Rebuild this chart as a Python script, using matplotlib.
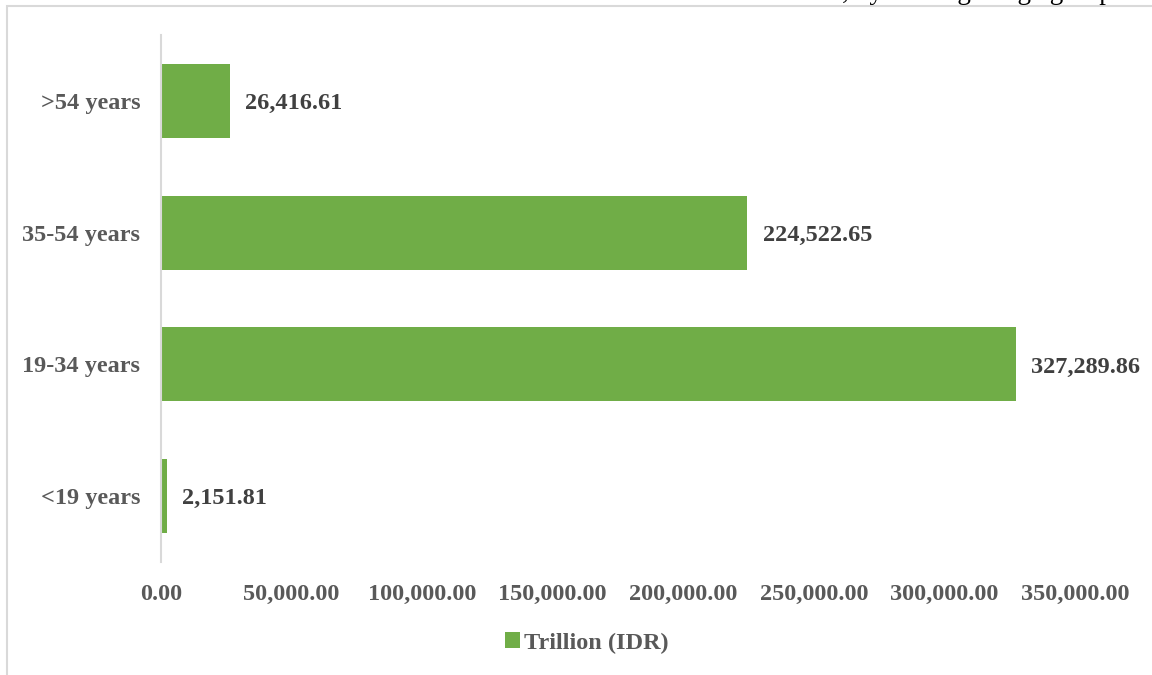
import matplotlib.pyplot as plt
from matplotlib.patches import Rectangle

# outstanding loans by borrower age group
age_groups = ["<19 years", "19-34 years", "35-54 years", ">54 years"]
amounts = [2151.81, 327289.86, 224522.65, 26416.61]
x_ticks = [0, 50000, 100000, 150000, 200000, 250000, 300000, 350000]
series_name = "Trillion (IDR)"
caption = "Total loan disbursement, by lending in age group"

GREEN = "#70AD47"
GRID = "#D9D9D9"
TICK_COLOR = "#595959"
LABEL_COLOR = "#404040"

plt.rcParams["font.family"] = ["Liberation Serif", "DejaVu Serif"]
plt.rcParams["font.weight"] = "bold"

W, H = 1152, 675
fig = plt.figure(figsize=(W / 100, H / 100), dpi=100)

# frame around the chart area
fig.add_artist(Rectangle((7 / W, -0.1), 1.2, 1 - 6 / H + 0.1,
                         transform=fig.transFigure, fill=False,
                         edgecolor=GRID, linewidth=1.5))

# clipped caption line at the top edge
fig.text(1113 / W, 1 + 1 / H, caption, ha="right", va="baseline",
         fontsize=19.5, fontweight="normal", color="black")

ax = fig.add_axes([161 / W, 1 - 562 / H, (1075 - 161) / W, (562 - 35) / H])

bars = ax.barh(range(len(age_groups)), amounts, height=0.56, color=GREEN,
               label=series_name)
ax.set_xlim(0, 350000)
ax.set_ylim(-0.5, len(age_groups) - 0.5)

for bar, val in zip(bars, amounts):
    ax.annotate(f"{val:,.2f}", (bar.get_width(), bar.get_y() + bar.get_height() / 2),
                xytext=(11, -2), textcoords="offset points", va="center", ha="left",
                fontsize=17.5, fontweight="bold", color=LABEL_COLOR)

ax.set_yticks(range(len(age_groups)))
ax.set_yticklabels(age_groups)
ax.set_xticks(x_ticks)
ax.set_xticklabels([f"{t:,.2f}" for t in x_ticks])
ax.tick_params(axis="y", length=0, pad=15, labelsize=17.5, labelcolor=TICK_COLOR)
ax.tick_params(axis="x", length=0, pad=16, labelsize=17.5, labelcolor=TICK_COLOR)

for side in ["top", "right", "bottom"]:
    ax.spines[side].set_visible(False)
ax.spines["left"].set_color(GRID)
ax.spines["left"].set_linewidth(1.5)

fig.legend(handles=[bars], labels=[series_name], loc="center",
           bbox_to_anchor=(587 / W, 1 - 643 / H), frameon=False,
           fontsize=17.5, labelcolor=TICK_COLOR, handlelength=0.6,
           handleheight=0.6, handletextpad=0.2)

fig.savefig("out.png", dpi=100)
